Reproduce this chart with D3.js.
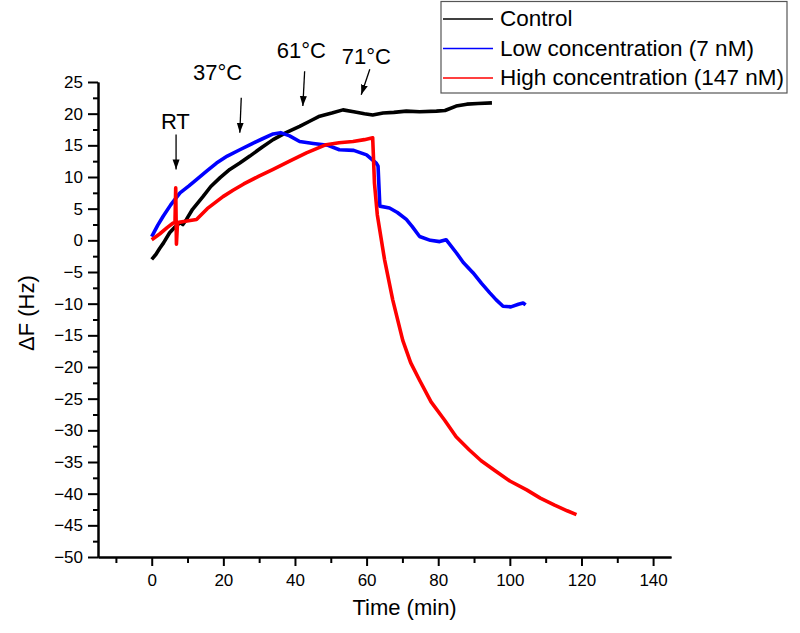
<!DOCTYPE html>
<html>
<head>
<meta charset="utf-8">
<script src="https://cdn.jsdelivr.net/npm/d3@7"></script>
<style>
  body { margin: 0; background: #fff; }
  text { font-family: "Liberation Sans", Arial, sans-serif; }
</style>
</head>
<body>
<div id="chart"></div>
<script>
// values (time in min, shift in Hz)
var ctrlT = [0, 1.2, 2.2, 3.3, 5.0, 6.3, 7.9, 8.7, 9.7, 11.4, 14.3, 16.5, 19.1, 21.8, 24.6, 27.4, 30.8, 33.9, 37.5, 41.3, 44.1, 46.9, 50.3, 53.4, 56.4, 59.4, 61.7, 64.6, 67.6, 71.1, 74.8, 79.5, 81.9, 85.0, 88.0, 91.1, 95.0]
var ctrlV = [-3.0, -2.2, -1.3, -0.4, 1.2, 2.0, 2.8, 2.5, 3.3, 4.9, 6.9, 8.5, 9.9, 11.2, 12.2, 13.3, 14.7, 15.9, 17.0, 18.0, 18.8, 19.6, 20.1, 20.6, 20.3, 20.0, 19.8, 20.1, 20.2, 20.4, 20.3, 20.4, 20.5, 21.2, 21.5, 21.6, 21.7]

var lowT = [0, 1.7, 3.2, 5.3, 7.9, 10.4, 12.5, 15.5, 18.1, 21.1, 24.6, 27.8, 30.8, 33.9, 36.0, 38.5, 41.3, 45.1, 49.2, 52.4, 56.4, 60.0, 62.7, 63.2, 63.7, 66.4, 68.6, 71.1, 72.7, 74.8, 77.8, 80.4, 82.2, 85.1, 87.0, 89.7, 92.1, 94.4, 96.2, 98.1, 100.3, 102.4, 103.7, 104.4]
var lowV = [0.6, 2.4, 3.8, 5.6, 7.5, 8.6, 9.6, 11.0, 12.2, 13.3, 14.3, 15.2, 16.0, 16.8, 17.0, 16.5, 15.6, 15.3, 15.0, 14.3, 14.2, 13.5, 12.2, 11.7, 5.4, 5.1, 4.4, 3.3, 2.2, 0.6, 0.0, -0.2, 0.1, -2.0, -3.5, -5.1, -6.8, -8.3, -9.4, -10.4, -10.5, -10.1, -9.9, -10.2]

var highT = [0, 2.2, 4.3, 5.9, 6.5, 6.7, 6.9, 7.2, 9.4, 12.5, 15.5, 19.9, 22.7, 25.7, 29.8, 33.9, 38.5, 43.2, 48.7, 52.3, 56.2, 59.4, 61.7, 62.2, 63, 64, 65, 67.3, 70.1, 72.3, 74.8, 78, 81.8, 85, 88.7, 92, 95.7, 100, 104.7, 108.5, 112.5, 116, 118.6]
var highV = [0.1, 1.0, 2.0, 2.7, 2.9, 8.3, -0.6, 2.8, 3.0, 3.3, 5.0, 6.9, 7.9, 8.9, 10.1, 11.2, 12.5, 13.8, 15.1, 15.4, 15.6, 15.9, 16.2, 9.0, 4.0, 0.5, -3.0, -9.4, -15.8, -19.3, -22.1, -25.5, -28.4, -31.0, -33.1, -34.8, -36.3, -38.0, -39.4, -40.7, -41.8, -42.7, -43.3]

var seriesNames = ["Control", "Low concentration (7 nM)", "High concentration (147 nM)"]
var seriesColors = ["#000000", "#0000ff", "#ff0000"]

var xTicks = [0, 20, 40, 60, 80, 100, 120, 140]
var xMinor = [-10, 10, 30, 50, 70, 90, 110, 130]
var yTicks = [-50, -45, -40, -35, -30, -25, -20, -15, -10, -5, 0, 5, 10, 15, 20, 25]
var yMinor = [-47.5, -42.5, -37.5, -32.5, -27.5, -22.5, -17.5, -12.5, -7.5, -2.5, 2.5, 7.5, 12.5, 17.5, 22.5]

// temperature step annotations: label, label position, arrow start, arrow tip
var annoLabels = ["RT", "37\u00b0C", "61\u00b0C", "71\u00b0C"]
var annoT = [6.6, 18.4, 41.8, 59.9]
var annoY = [18.8, 26.5, 30.1, 29.1]
var arrowT0 = [6.8, 25.0, 42.7, 60.9]
var arrowY0 = [16.7, 22.5, 26.7, 27.0]
var arrowT1 = [6.8, 24.6, 42.2, 58.5]
var arrowY1 = [11.2, 17.0, 21.2, 23.0]

var W = 800, H = 633
var margin = {top: 82, right: 129, bottom: 76, left: 98}
var width = W - margin.left - margin.right,
    height = H - margin.top - margin.bottom

var svg = d3.select("#chart").append("svg")
    .attr("width", W)
    .attr("height", H)

var defs = svg.append("defs")
defs.append("marker")
    .attr("id", "head")
    .attr("viewBox", "0 0 10 10")
    .attr("refX", 10).attr("refY", 5)
    .attr("markerWidth", 10).attr("markerHeight", 10)
    .attr("markerUnits", "userSpaceOnUse")
    .attr("orient", "auto")
  .append("path")
    .attr("d", "M0,1.5 L10,5 L0,8.5 Z")
    .attr("fill", "#000")

var g = svg.append("g")
    .attr("transform", "translate(" + margin.left + "," + margin.top + ")")

var x = d3.scaleLinear().domain([-15, 145]).range([0, width])
var y = d3.scaleLinear().domain([-50, 25]).range([height, 0])

// traces
var line = d3.line()
    .x(function(d) { return x(d.t) })
    .y(function(d) { return y(d.v) })

var traces = [[ctrlT, ctrlV], [lowT, lowV], [highT, highV]]
traces.forEach(function(tr, i) {
    var data = tr[0].map(function(t, j) { return {t: t, v: tr[1][j]} })
    g.append("path")
        .datum(data)
        .attr("fill", "none")
        .attr("stroke", seriesColors[i])
        .attr("stroke-width", 3.6)
        .attr("stroke-linejoin", "round")
        .attr("d", line)
})

// axes
function styleAxis(sel) {
    sel.select(".domain").attr("stroke", "#000").attr("stroke-width", 2)
    sel.selectAll(".tick line").attr("stroke", "#000").attr("stroke-width", 2)
    sel.selectAll(".tick text").attr("fill", "#000")
        .style("font-family", "Liberation Sans, Arial, sans-serif")
        .style("font-size", "17px")
}

g.append("g")
    .attr("transform", "translate(0," + height + ")")
    .call(d3.axisBottom(x).tickValues(xMinor).tickSize(6).tickSizeOuter(0).tickFormat(""))
    .call(styleAxis)
g.append("g")
    .attr("transform", "translate(0," + height + ")")
    .call(d3.axisBottom(x).tickValues(xTicks).tickSize(9).tickSizeOuter(0).tickPadding(8))
    .call(styleAxis)

g.append("g")
    .call(d3.axisLeft(y).tickValues(yMinor).tickSize(5).tickSizeOuter(0).tickFormat(""))
    .call(styleAxis)
g.append("g")
    .call(d3.axisLeft(y).tickValues(yTicks).tickSize(10).tickSizeOuter(0).tickPadding(5))
    .call(styleAxis)

// axis titles
g.append("text")
    .attr("text-anchor", "middle")
    .attr("x", x(70.6))
    .attr("y", height + 58)
    .style("font-size", "22px")
    .text("Time (min)")

g.append("text")
    .attr("text-anchor", "middle")
    .attr("transform", "translate(" + (-64) + "," + y(-11.5) + ") rotate(-90)")
    .style("font-size", "22px")
    .text("\u0394F (Hz)")

// annotations
annoLabels.forEach(function(lab, i) {
    g.append("text")
        .attr("text-anchor", "middle")
        .attr("x", x(annoT[i]))
        .attr("y", y(annoY[i]))
        .attr("dy", "0.36em")
        .style("font-size", "22px")
        .text(lab)
    g.append("line")
        .attr("x1", x(arrowT0[i])).attr("y1", y(arrowY0[i]))
        .attr("x2", x(arrowT1[i])).attr("y2", y(arrowY1[i]))
        .attr("stroke", "#000")
        .attr("stroke-width", 1.3)
        .attr("marker-end", "url(#head)")
})

// legend
var leg = svg.append("g").attr("transform", "translate(441,1.5)")
leg.append("rect")
    .attr("width", 346).attr("height", 91.5)
    .attr("fill", "#fff")
    .attr("stroke", "#555")
    .attr("stroke-width", 1.2)
seriesNames.forEach(function(name, i) {
    var cy = 16.5 + i * 29.5
    leg.append("line")
        .attr("x1", 2).attr("x2", 52)
        .attr("y1", cy + 1)
        .attr("y2", cy + 1)
        .attr("stroke", seriesColors[i])
        .attr("stroke-width", 1.6)
    leg.append("text")
        .attr("x", 59)
        .attr("y", cy)
        .attr("dy", "0.36em")
        .style("font-size", "22.5px")
        .text(name)
})
</script>
</body>
</html>
